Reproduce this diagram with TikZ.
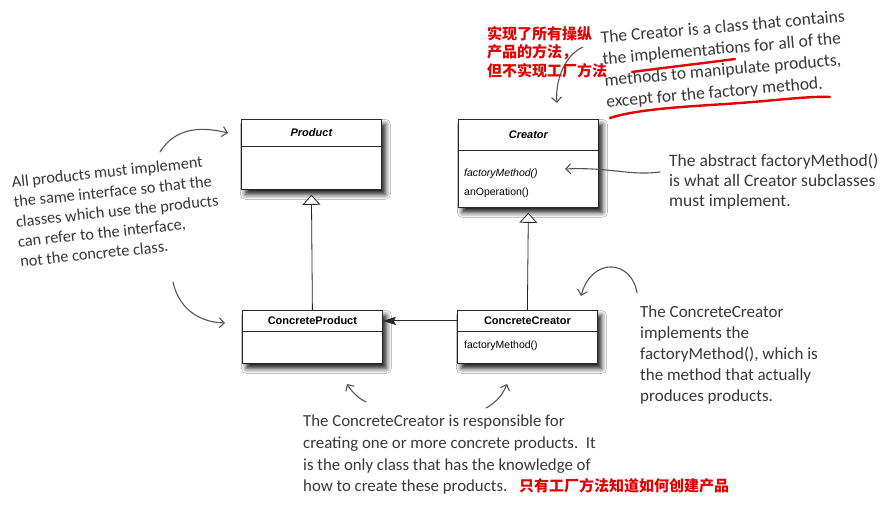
\documentclass[tikz,border=0pt]{standalone}
\usepackage{fontspec}
\setmainfont{Liberation Sans}
\newfontfamily\hand{Carlito}
\newfontfamily\cjk{Noto Sans CJK SC}
\usetikzlibrary{arrows.meta,shadows.blur}
\definecolor{ink}{HTML}{383838}
\definecolor{cnred}{RGB}{228,0,0}
\definecolor{arrowgray}{HTML}{555555}
\begin{document}
\begin{tikzpicture}[x=1pt,y=-1pt,
  classbox/.style={draw=black!85, line width=0.8pt, fill=white, rectangle, inner sep=0pt, anchor=north west, minimum width=140pt,
    blur shadow={shadow xshift=4pt, shadow yshift=-5pt, shadow blur radius=5pt, shadow opacity=90}},
  classhead/.style={draw=black!85, line width=0.8pt, rectangle, inner sep=0pt, anchor=north west, minimum width=140pt,
    font=\fontsize{11}{13}\selectfont\bfseries},
  member/.style={anchor=base west, inner sep=0pt, font=\fontsize{10.5}{12}\selectfont},
  note/.style={anchor=north west, inner sep=0pt, align=left, text=ink},
  cnnote/.style={inner sep=0pt, align=left, text=cnred},
  inherit/.style={draw=black!85, line width=0.8pt, shorten >=5pt, -{Triangle[open, length=10pt, width=18pt, fill=white]}},
  assoc/.style={draw=black!85, line width=1pt, -{Stealth[length=13pt, width=8pt, inset=2pt]}},
  handarrow/.style={draw=arrowgray, line width=1.1pt, line cap=round, -{Straight Barb[length=5pt, width=10pt]}},
  redline/.style={draw=cnred, line width=2.4pt, line cap=round}
]
\useasboundingbox[fill=white] (0,0) rectangle (895,510);

% classes
\node[classbox, minimum height=70pt] (prod) at (241,119) {};
\node[classhead, minimum height=27pt] (prodH) at (241,119) {\itshape Product};
\node[classbox, minimum height=88pt] (creator) at (458,119) {};
\node[classhead, minimum height=31pt] (creatorH) at (458,119) {\itshape Creator};
\node[member] (fm1) at (464,177) {\itshape factoryMethod()};
\node[member] (anop) at (464,196) {anOperation()};
\node[classbox, minimum height=53pt] (cprod) at (242,310) {};
\node[classhead, minimum height=21pt] (cprodH) at (242,310) {ConcreteProduct};
\node[classbox, minimum height=53pt] (ccreator) at (457,310) {};
\node[classhead, minimum height=21pt] (ccreatorH) at (457,310) {ConcreteCreator};
\node[member] (fm2) at (464,349) {factoryMethod()};

% relations
\draw[inherit] (cprodH.north) -- (prod.south);
\draw[inherit] (ccreatorH.north) -- (creator.south);
\draw[assoc] (ccreatorH.west) -- (cprodH.east);

% notes
\node[note, rotate=5, font=\hand\fontsize{17.5}{21.5}\selectfont] (n1) at (600,31)
  {The Creator is a class that contains\\the implementations for all of the\\methods to manipulate products,\\except for the factory method.};
\node[note, rotate=6, font=\hand\fontsize{16.3}{20}\selectfont] (n3) at (11,176)
  {All products must implement\\the same interface so that the\\classes which use the products\\can refer to the interface,\\not the concrete class.};
\node[note, font=\hand\fontsize{17.5}{20}\selectfont] (n2) at (669,154)
  {The abstract factoryMethod()\\is what all Creator subclasses\\must implement.};
\node[note, font=\hand\fontsize{17}{21.2}\selectfont] (n4) at (640,305)
  {The ConcreteCreator\\implements the\\factoryMethod(), which is\\the method that actually\\produces products.};
\node[note, font=\hand\fontsize{16.8}{21.7}\selectfont] (n5) at (303,415)
  {The ConcreteCreator is responsible for\\creating one or more concrete products.\ \ It\\is the only class that has the knowledge of\\how to create these products.};
\node[cnnote, anchor=north west, font=\cjk\bfseries\fontsize{15}{18.5}\selectfont] (cn1) at (487,26)
  {实现了所有操纵\\产品的方法，\\但不实现工厂方法};
\node[cnnote, anchor=base west, font=\cjk\bfseries\fontsize{15}{18}\selectfont] (cn2) at (519,492)
  {只有工厂方法知道如何创建产品};

% red underlines
\draw[redline] (632,72) .. controls (670,67) and (705,63) .. (735,59);
\draw[redline] (610,118) .. controls (640,108) and (700,106) .. (740,103) .. controls (780,100) and (810,96) .. (830,97);

% annotation arrows
\coordinate (aAs) at (583,47);   \coordinate (aAe) at (557,103);
\coordinate (aBs) at (660,172);  \coordinate (aBe) at (565,169);
\coordinate (aCs) at (160,152);  \coordinate (aCe) at (228,133);
\coordinate (aDs) at (173,282);  \coordinate (aDe) at (225,323);
\coordinate (aEs) at (637,293);  \coordinate (aEe) at (581,296);
\coordinate (aFs) at (366,402);  \coordinate (aFe) at (347,384);
\coordinate (aGs) at (486,408);  \coordinate (aGe) at (507,384);
\draw[handarrow] (aAs) .. controls (565,55) and (555,80) .. (aAe);
\draw[handarrow] (aBs) .. controls (630,176) and (610,167) .. (aBe);
\draw[handarrow] (aCs) .. controls (175,128) and (200,126) .. (aCe);
\draw[handarrow] (aDs) .. controls (178,305) and (195,322) .. (aDe);
\draw[handarrow] (aEs) .. controls (632,260) and (592,256) .. (aEe);
\draw[handarrow] (aFs) .. controls (358,398) and (352,392) .. (aFe);
\draw[handarrow] (aGs) .. controls (497,402) and (503,394) .. (aGe);
\end{tikzpicture}
\end{document}
